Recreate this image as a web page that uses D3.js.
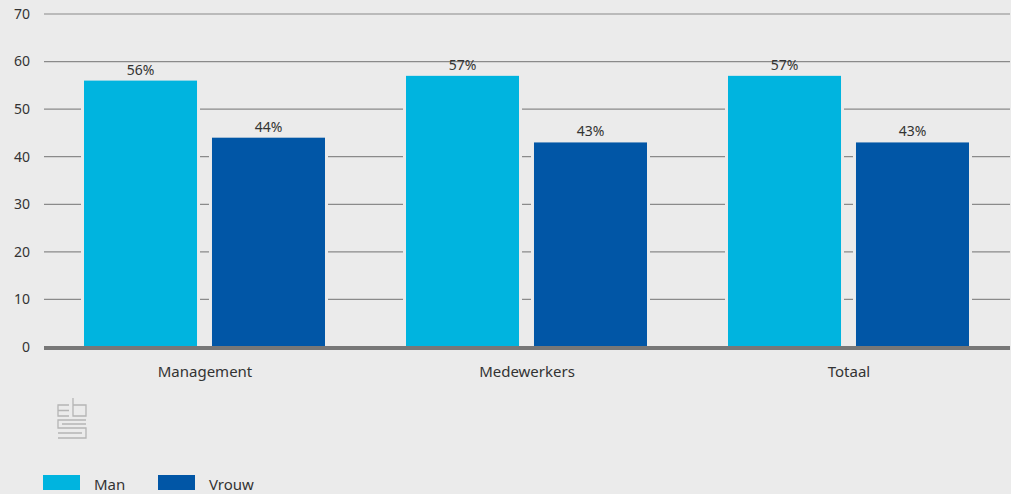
<!DOCTYPE html>
<html>
<head>
<meta charset="utf-8">
<script src="https://cdn.jsdelivr.net/npm/d3@7"></script>
<style>
  body { margin: 0; background: #ebebeb; }
  svg { display: block; font-family: "Noto Sans", sans-serif; }
</style>
</head>
<body>
<div id="chart"></div>
<script>
var width = 1011;
var height = 494;

var categories = ["Management", "Medewerkers", "Totaal"];
var series = ["Man", "Vrouw"];
var man = [56, 57, 57];
var vrouw = [44, 43, 43];
var yTicks = [0, 10, 20, 30, 40, 50, 60, 70];
var colors = ["#00b4df", "#0156a6"];

var bg = "#ebebeb";
var margin = {top: 14, left: 44, right: 1, bottom: 147};
var innerW = width - margin.left - margin.right;
var innerH = height - margin.top - margin.bottom;

var svg = d3.select("#chart").append("svg")
    .attr("width", width)
    .attr("height", height);

svg.append("rect").attr("width", width).attr("height", height).attr("fill", bg);

var g = svg.append("g").attr("transform", "translate(" + margin.left + "," + margin.top + ")");

var x0 = d3.scaleBand().domain(categories).range([0, innerW]);
var x1 = d3.scaleBand().domain(series).range([40, x0.bandwidth() - 41]).paddingInner(0.117);
var y = d3.scaleLinear().domain([0, 70]).range([innerH, 0]);

// gridlines
g.selectAll(".grid")
    .data(yTicks.filter(function(d) { return d > 0; }))
    .enter().append("line")
    .attr("x1", 0).attr("x2", innerW)
    .attr("y1", function(d) { return y(d); })
    .attr("y2", function(d) { return y(d); })
    .attr("stroke", "#8a8a8a")
    .attr("stroke-width", 1.2);

// y tick labels
g.selectAll(".ytick")
    .data(yTicks)
    .enter().append("text")
    .attr("x", -14)
    .attr("y", function(d) { return y(d); })
    .attr("dy", "0.35em")
    .attr("text-anchor", "end")
    .attr("fill", "#333")
    .style("font-size", "14px")
    .text(function(d) { return d; });

var rows = categories.map(function(c, i) {
    return {cat: c, values: [{s: "Man", v: man[i]}, {s: "Vrouw", v: vrouw[i]}]};
});

var groups = g.selectAll(".grp")
    .data(rows)
    .enter().append("g")
    .attr("transform", function(d) { return "translate(" + x0(d.cat) + ",0)"; });

// background halo so gridlines stop short of the bars
groups.selectAll(".halo")
    .data(function(d) { return d.values; })
    .enter().append("rect")
    .attr("x", function(d) { return x1(d.s) - 3; })
    .attr("y", function(d) { return y(d.v) - 3; })
    .attr("width", x1.bandwidth() + 6)
    .attr("height", function(d) { return innerH - y(d.v) + 3; })
    .attr("fill", bg);

groups.selectAll(".bar")
    .data(function(d) { return d.values; })
    .enter().append("rect")
    .attr("x", function(d) { return x1(d.s); })
    .attr("y", function(d) { return y(d.v); })
    .attr("width", x1.bandwidth())
    .attr("height", function(d) { return innerH - y(d.v); })
    .attr("fill", function(d, i) { return colors[i]; });

groups.selectAll(".lbl")
    .data(function(d) { return d.values; })
    .enter().append("text")
    .attr("x", function(d) { return x1(d.s) + x1.bandwidth() / 2; })
    .attr("y", function(d) { return y(d.v) - 6; })
    .attr("text-anchor", "middle")
    .attr("fill", "#333")
    .style("font-size", "14px")
    .text(function(d) { return d.v + "%"; });

// zero line
g.append("line")
    .attr("x1", 0).attr("x2", innerW)
    .attr("y1", y(0) + 1).attr("y2", y(0) + 1)
    .attr("stroke", "#777")
    .attr("stroke-width", 4);

// category labels
g.selectAll(".xlab")
    .data(categories)
    .enter().append("text")
    .attr("x", function(d) { return x0(d) + x0.bandwidth() / 2; })
    .attr("y", innerH + 30)
    .attr("text-anchor", "middle")
    .attr("fill", "#333")
    .style("font-size", "15px")
    .text(function(d) { return d; });

// cbs logo (rough)
var logo = svg.append("g")
    .attr("transform", "translate(57,397)")
    .attr("fill", "none")
    .attr("stroke", "#b5b5b5")
    .attr("stroke-width", 1.3);
logo.append("path").attr("d", "M12,8 H1 V19 H12 M1,13.5 H12");
logo.append("path").attr("d", "M16,1 V19 H29 V8 H16");
logo.append("path").attr("d", "M29,23 H1 V31 H29 V41 H1");
logo.append("path").attr("d", "M29,27 H5 M25,36 H1");

// legend
var legend = svg.append("g").attr("transform", "translate(43,475)");
var lx = [0, 115];
series.forEach(function(s, i) {
    legend.append("rect")
        .attr("x", lx[i]).attr("y", 0)
        .attr("width", 37).attr("height", 15)
        .attr("fill", colors[i]);
    legend.append("text")
        .attr("x", lx[i] + 51).attr("y", 15)
        .attr("fill", "#333")
        .style("font-size", "15px")
        .text(s);
});
</script>
</body>
</html>
